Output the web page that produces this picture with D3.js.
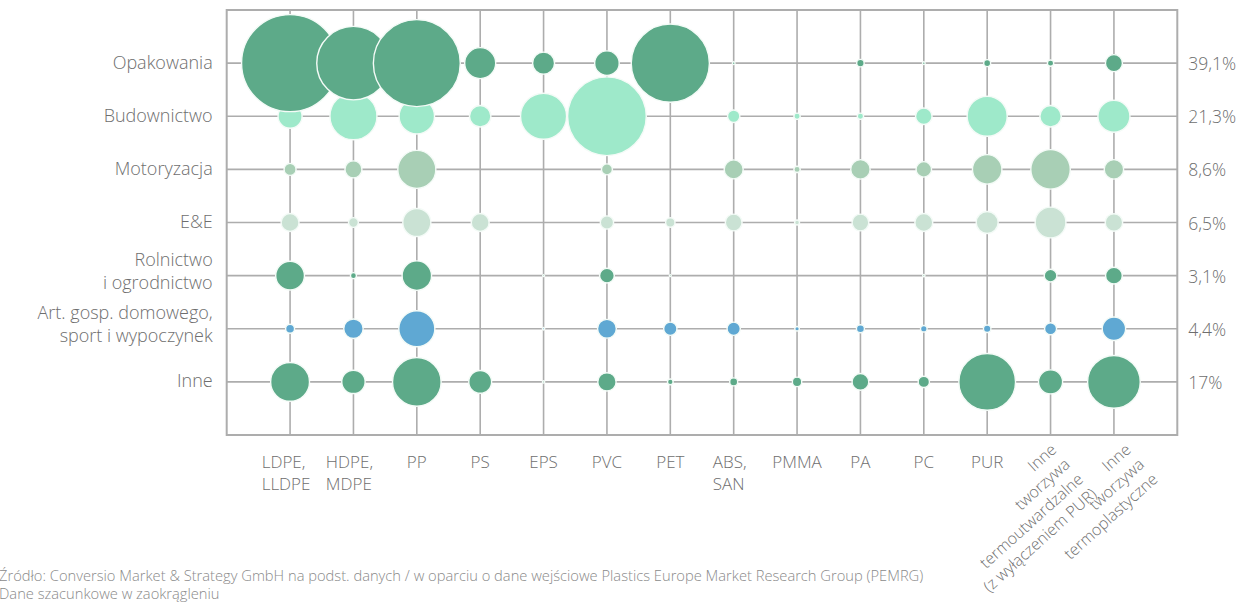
<!DOCTYPE html>
<html><head><meta charset="utf-8">
<script src="https://cdn.jsdelivr.net/npm/d3@7"></script>
<style>
body{margin:0;background:#fff;}
svg{display:block;font-family:"Open Sans",Lato,sans-serif;font-weight:300;}
</style>
</head><body>
<svg id="c" width="1237" height="608"></svg>
<script>
// ---------------- DATA ----------------
const segments = ["Opakowania","Budownictwo","Motoryzacja","E&E","Rolnictwo\ni ogrodnictwo","Art. gosp. domowego,\nsport i wypoczynek","Inne"];
const segmentShares = ["39,1%","21,3%","8,6%","6,5%","3,1%","4,4%","17%"];
const polymers = ["LDPE,\nLLDPE","HDPE,\nMDPE","PP","PS","EPS","PVC","PET","ABS,\nSAN","PMMA","PA","PC","PUR",
  "Inne\ntworzywa\ntermoutwardzalne\n(z wyłączeniem PUR)","Inne\ntworzywa\ntermoplastyczne"];
// share of total demand (%)
const opakowania   = [11.7, 6.7, 9.4, 1.2, 0.6, 0.75, 7.6, 0.01, 0, 0.07, 0.01, 0.06, 0.05, 0.36];
const budownictwo  = [0.72, 2.75, 1.56, 0.57, 2.64, 7.7, 0, 0.19, 0.05, 0.05, 0.34, 2.0, 0.57, 1.28];
const motoryzacja  = [0.18, 0.36, 1.8, 0, 0, 0.15, 0, 0.45, 0.05, 0.47, 0.30, 1.08, 1.94, 0.47];
const ee           = [0.40, 0.12, 0.98, 0.40, 0, 0.22, 0.11, 0.35, 0.03, 0.35, 0.40, 0.60, 1.18, 0.38];
const rolnictwo    = [1.03, 0.045, 1.08, 0, 0.005, 0.27, 0.005, 0, 0, 0, 0.007, 0, 0.20, 0.35];
const artGosp      = [0.10, 0.47, 1.62, 0, 0.007, 0.44, 0.22, 0.22, 0.026, 0.08, 0.054, 0.07, 0.18, 0.68];
const inne         = [1.88, 0.68, 2.94, 0.65, 0.007, 0.42, 0.04, 0.08, 0.11, 0.35, 0.16, 4.0, 0.72, 3.45];
const seriesValues = [opakowania, budownictwo, motoryzacja, ee, rolnictwo, artGosp, inne];
const sourceNote = "Źródło: Conversio Market & Strategy GmbH na podst. danych / w oparciu o dane wejściowe Plastics Europe Market Research Group (PEMRG)";
const estimateNote = "Dane szacunkowe w zaokrągleniu";

// ---------------- STYLE ----------------
const segmentColors = ["#5daa89","#9ee9ca","#a8cfb5","#cae2d4","#5daa89","#5fa8d3","#5daa89"];
const gridColor = "#adadad";
const textColor = "#6e6e6e";

// ---------------- CHART ----------------
const svg = d3.select("#c");
const X0 = 226.7, X1 = 1177.3, Y0 = 10, Y1 = 435;
const x = d3.scalePoint().domain(polymers).range([X0, X1]).padding(1);
const y = d3.scalePoint().domain(segments).range([Y0, Y1]).padding(1);
const maxV = d3.max(seriesValues.flat());
const r = d3.scaleSqrt().domain([0, maxV]).range([0, 48.5]);

// grid
const grid = svg.append("g");
grid.selectAll("line.v").data(polymers).join("line")
  .attr("x1", d => x(d)).attr("x2", d => x(d)).attr("y1", Y0).attr("y2", Y1)
  .attr("stroke", gridColor).attr("stroke-width", 1.6);
grid.selectAll("line.h").data(segments).join("line")
  .attr("y1", d => y(d)).attr("y2", d => y(d)).attr("x1", X0).attr("x2", X1)
  .attr("stroke", gridColor).attr("stroke-width", 1.6);
grid.append("rect").attr("x", X0).attr("y", Y0).attr("width", X1 - X0).attr("height", Y1 - Y0)
  .attr("fill", "none").attr("stroke", gridColor).attr("stroke-width", 2);

// bubbles (bottom rows first so top rows overlap)
const cells = [];
segments.forEach((s, i) => polymers.forEach((p, j) => {
  const v = seriesValues[i][j];
  if (v > 0) cells.push({s, p, v, i});
}));
cells.sort((a, b) => b.i - a.i);
svg.append("g").selectAll("circle").data(cells).join("circle")
  .attr("cx", d => x(d.p)).attr("cy", d => y(d.s)).attr("r", d => Math.max(r(d.v), 1))
  .attr("fill", d => segmentColors[d.i]).attr("stroke", "#f4fbf7").attr("stroke-width", 1.4);

// y labels (left)
const yl = svg.append("g").attr("fill", textColor).attr("font-size", 18).attr("text-anchor", "end");
segments.forEach(s => {
  const lines = s.split("\n");
  const base = lines.length > 1 ? y(s) - 15 + 5.5 : y(s) + 5.5;
  const t = yl.append("text").attr("y", base);
  lines.forEach((l, k) => t.append("tspan").attr("x", X0 - 14).attr("dy", k ? 23 : 0).text(l));
});

// right labels
svg.append("g").attr("fill", textColor).attr("font-size", 17.5)
  .selectAll("text").data(segments).join("text")
  .attr("x", X1 + 11).attr("y", d => y(d) + 7)
  .text((d, i) => segmentShares[i]);

// x labels
const xl = svg.append("g").attr("fill", textColor);
polymers.forEach((p, j) => {
  const lines = p.split("\n");
  const cx = x(p);
  if (lines.length <= 2) {
    const t = xl.append("text").attr("font-size", 17).attr("y", 468);
    const spans = lines.map((l, k) => t.append("tspan").attr("x", 0).attr("dy", k ? 22 : 0).text(l));
    const w = d3.max(spans, sp => sp.node().getComputedTextLength());
    const left = cx - w / 2 - (lines.length > 1 ? 4 : 0);
    spans.forEach(sp => sp.attr("x", left));
  } else {
    const dx = lines.length === 4 ? 7 : 18;
    const t = xl.append("text").attr("font-size", 16).attr("text-anchor", "end")
      .attr("transform", `translate(${cx + dx},${451}) rotate(-42)`);
    lines.forEach((l, k) => t.append("tspan").attr("x", 0).attr("dy", k ? 20 : 0).text(l));
  }
});

// footer
const ft = svg.append("g").attr("fill", "#8a8a8a").attr("font-size", 14.7);
ft.append("text").attr("x", -1).attr("y", 581).text(sourceNote);
ft.append("text").attr("x", -1).attr("y", 599).text(estimateNote);
</script>
</body></html>
